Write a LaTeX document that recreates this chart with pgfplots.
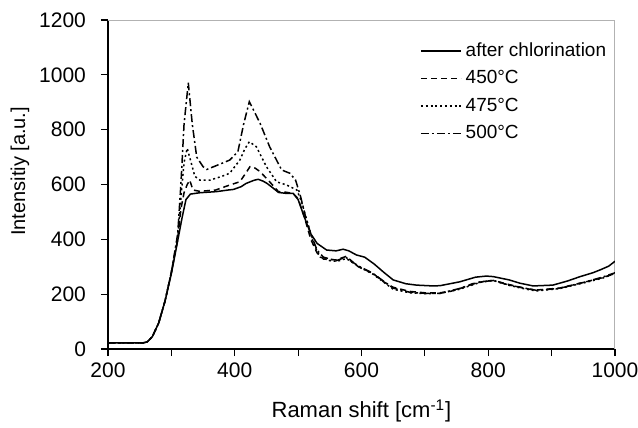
\documentclass[border=0pt]{standalone}
\usepackage{fontspec}
\setmainfont{Liberation Sans}
\usepackage{pgfplots}
\pgfplotsset{compat=1.18}

\pgfplotstableread{
x y
200 22
255 22
262 26
270 45
280 95
290 175
300 275
310 395
317 480
323 545
330 565
345 570
371 574
390 580
398 582
410 592
418 604
430 615
437 619
445 612
451 604
460 588
469 571
480 568
492 568
500 545
510 480
520 420
530 385
545 361
560 358
571 364
580 358
592 343
605 335
620 310
635 280
650 252
670 238
687 233
713 230
724 231
755 245
780 262
797 266
808 264
833 252
850 240
871 230
902 233
925 248
945 264
965 278
976 288
990 302
1000 320
}\chlor

\pgfplotstableread{
x y
200 22
255 22
262 26
270 45
280 95
290 175
300 280
310 400
315 510
320 570
325 600
329 616
334 580
345 575
370 580
392 598
408 610
417 640
424 665
432 660
440 647
455 610
469 574
480 572
492 568
500 548
510 480
520 400
530 350
540 328
560 325
576 338
585 320
595 300
618 276
635 245
650 225
676 210
700 205
724 205
740 210
755 220
775 238
797 248
808 250
833 235
860 220
876 215
912 222
954 245
980 260
1000 275
}\tfifty

\pgfplotstableread{
x y
200 22
255 22
262 26
270 45
280 95
290 175
300 280
310 410
315 550
320 680
325 732
330 690
337 630
345 616
361 616
380 630
392 641
408 689
416 730
423 756
434 738
450 665
466 610
482 598
498 580
505 540
515 460
525 380
535 335
550 322
562 320
576 330
586 315
596 300
618 273
650 218
676 205
700 202
724 203
755 218
787 243
808 250
833 232
860 218
876 212
912 220
954 243
980 258
1000 276
}\tseventyfive

\pgfplotstableread{
x y
200 22
255 22
262 26
270 45
280 95
290 175
300 280
310 420
315 600
320 820
326.7 971
333 820
340 700
350 665
356 655
370 668
392 689
405 720
414 820
423 902
430 870
440 823
455 738
474 653
487 641
496 616
504 555
512 480
520 420
530 360
540 335
560 322
575 335
585 318
596 302
618 276
650 222
676 207
700 203
724 203
755 221
787 245
808 250
833 233
860 221
876 214
912 221
954 245
980 262
1000 278
}\fivehundred

\begin{document}
\begin{tikzpicture}
\begin{axis}[
  scale only axis, width=253.5pt, height=164.5pt,
  at={(0,0)}, anchor=south west,
  xmin=200, xmax=1000, ymin=0, ymax=1200,
  axis x line*=bottom, axis y line*=left,
  axis line style={black, line width=0.6pt},
  xtick={200,400,...,1000}, minor xtick={300,500,700,900},
  ytick={0,200,...,1200},
  tick align=outside, major tick length=3.5pt, minor tick length=3.5pt,
  every tick/.style={black, line width=0.6pt},
  tick label style={font=\fontsize{10.5}{12}\selectfont},
  yticklabel style={xshift=-4pt},
  /pgf/number format/assume math mode=true,
  /pgf/number format/1000 sep={},
  xlabel={Raman shift [cm\textsuperscript{-1}]},
  ylabel={Intensitiy [a.u.]},
  xlabel style={font=\fontsize{11}{13}\selectfont, at={([yshift=-31pt]rel axis cs:0.5,0)}, anchor=center},
  ylabel style={font=\fontsize{10}{12}\selectfont, at={([xshift=-44pt]rel axis cs:0,0.54)}, anchor=center},
  legend style={draw=none, fill=none, at={(0.615,0.945)}, anchor=north west,
    font=\fontsize{9.5}{11}\selectfont, row sep=1.6pt, inner sep=0pt},
  legend cell align=left,
  legend image code/.code={\draw[#1] (0pt,0pt) -- (20pt,0pt);},
  every axis plot/.append style={line width=0.75pt, black},
]
\draw[gray!60, line width=0.6pt] (rel axis cs:0,1) -- (rel axis cs:1,1) -- (rel axis cs:1,0);
\addplot[solid] table {\chlor};
\addlegendentry{after chlorination}
\addplot[dash pattern=on 3pt off 2pt] table {\tfifty};
\addlegendentry{450°C}
\addplot[dash pattern=on 1pt off 1.4pt] table {\tseventyfive};
\addlegendentry{475°C}
\addplot[dash pattern=on 4pt off 1.5pt on 1pt off 1.5pt] table {\fivehundred};
\addlegendentry{500°C}
\end{axis}
\pgfresetboundingbox
\path (-54pt,-39.5pt) rectangle (265pt,174.5pt);
\end{tikzpicture}
\end{document}
